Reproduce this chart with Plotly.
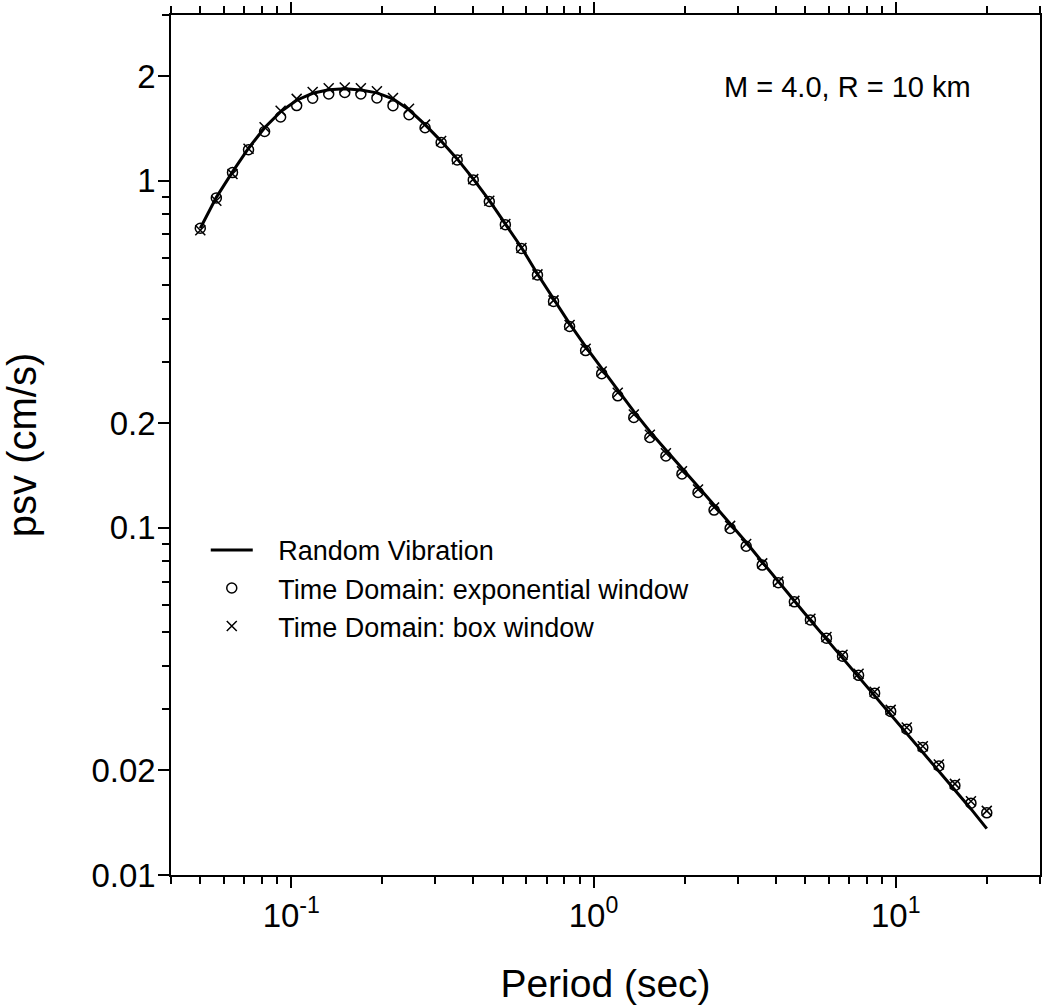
"""Random vibration vs time-domain psv, M = 4.0, R = 10 km."""

import math

import plotly.graph_objects as go

# periods (sec), shared by all three series
period = [
    0.0500, 0.0565, 0.0639, 0.0722, 0.0816, 0.0922, 0.1042, 0.1177, 0.1330, 0.1503,
    0.1699, 0.1920, 0.2170, 0.2452, 0.2771, 0.3132, 0.3539, 0.4000, 0.4520, 0.5108,
    0.5773, 0.6524, 0.7373, 0.8332, 0.9416, 1.0641, 1.2026, 1.3590, 1.5358, 1.7356,
    1.9614, 2.2166, 2.5050, 2.8309, 3.1992, 3.6154, 4.0858, 4.6173, 5.2181, 5.8969,
    6.6641, 7.5311, 8.5109, 9.6182, 10.869, 12.284, 13.882, 15.688, 17.729, 20.000,
]

# psv (cm/s) - random vibration
psv_rv = [
    0.729, 0.895, 1.060, 1.240, 1.420, 1.580, 1.705, 1.785, 1.827, 1.838,
    1.825, 1.790, 1.720, 1.600, 1.450, 1.300, 1.155, 1.012, 0.877, 0.752,
    0.642, 0.5385, 0.455, 0.3876, 0.3327, 0.2874, 0.2497, 0.2164, 0.1894, 0.1675,
    0.1488, 0.1316, 0.1163, 0.1030, 0.0909, 0.0797, 0.0700, 0.0615, 0.0542, 0.0478,
    0.0422, 0.0372, 0.0328, 0.0290, 0.0255, 0.0225, 0.0199, 0.0175, 0.0155, 0.0136,
]

# psv (cm/s) - time domain, exponential window
psv_exp = [
    0.729, 0.892, 1.055, 1.227, 1.385, 1.525, 1.645, 1.727, 1.778, 1.795,
    1.776, 1.730, 1.644, 1.548, 1.420, 1.288, 1.147, 1.005, 0.871, 0.747,
    0.638, 0.535, 0.449, 0.380, 0.324, 0.278, 0.240, 0.208, 0.182, 0.161,
    0.143, 0.1265, 0.1125, 0.0996, 0.0885, 0.0781, 0.0695, 0.0612, 0.0543, 0.0481,
    0.0427, 0.0376, 0.0334, 0.0296, 0.0263, 0.0233, 0.0206, 0.0181, 0.0161, 0.0151,
]

# psv (cm/s) - time domain, box window
psv_box = [
    0.720, 0.875, 1.045, 1.235, 1.425, 1.590, 1.720, 1.800, 1.845, 1.855,
    1.845, 1.810, 1.730, 1.610, 1.450, 1.300, 1.152, 1.010, 0.875, 0.750,
    0.640, 0.537, 0.452, 0.384, 0.328, 0.282, 0.245, 0.212, 0.1855, 0.164,
    0.1455, 0.129, 0.1145, 0.1013, 0.0898, 0.0790, 0.0700, 0.0616, 0.0547, 0.0485,
    0.0431, 0.0380, 0.0337, 0.0299, 0.0266, 0.0235, 0.0208, 0.0183, 0.0163, 0.0153,
]

x_major = [0.1, 1, 10]
x_major_text = ["10<sup>-1</sup>", "10<sup>0</sup>", "10<sup>1</sup>"]
x_minor = [0.04, 0.05, 0.06, 0.07, 0.08, 0.09,
           0.2, 0.3, 0.4, 0.5, 0.6, 0.7, 0.8, 0.9,
           2, 3, 4, 5, 6, 7, 8, 9, 20, 30]
y_major = [0.01, 0.02, 0.1, 0.2, 1, 2]
y_major_text = ["0.01", "0.02", "0.1", "0.2", "1", "2"]
y_minor = [0.03, 0.04, 0.05, 0.06, 0.07, 0.08, 0.09,
           0.3, 0.4, 0.5, 0.6, 0.7, 0.8, 0.9, 3]

FONT = "Liberation Sans, Arial, sans-serif"
GAP = "  \u2009"  # space between legend sample and its label

fig = go.Figure()
fig.add_trace(go.Scatter(
    x=period, y=psv_exp, mode="markers", name=GAP + "Time Domain: exponential window",
    marker=dict(symbol="circle-open", size=10, color="black", line=dict(width=1.5)),
    legendrank=2,
))
fig.add_trace(go.Scatter(
    x=period, y=psv_box, mode="markers", name=GAP + "Time Domain: box window",
    marker=dict(symbol="x-thin-open", size=10, color="black", line=dict(width=1.5)),
    legendrank=3,
))
fig.add_trace(go.Scatter(
    x=period, y=psv_rv, mode="lines", name=GAP + "Random Vibration",
    line=dict(color="black", width=3), legendrank=1,
))

axis_common = dict(
    showgrid=False, zeroline=False, showline=True, linecolor="black", linewidth=1.5,
    mirror="ticks", ticks="outside", ticklen=11, tickwidth=1.5, tickcolor="black",
    tickfont=dict(family=FONT, size=33, color="black"), automargin=False,
)

fig.update_xaxes(
    type="log", range=[math.log10(0.04), math.log10(30)],
    tickmode="array", tickvals=x_major, ticktext=x_major_text,
    minor=dict(tickmode="array", tickvals=x_minor, ticks="outside", ticklen=7,
               tickwidth=1.5, tickcolor="black", showgrid=False),
    title=dict(text="Period (sec)", font=dict(family=FONT, size=39, color="black"), standoff=36),
    **axis_common,
)
fig.update_yaxes(
    type="log", range=[math.log10(0.01), math.log10(3)],
    tickmode="array", tickvals=y_major, ticktext=y_major_text,
    minor=dict(tickmode="array", tickvals=y_minor, ticks="outside", ticklen=7,
               tickwidth=1.5, tickcolor="black", showgrid=False),
    ticklabelstandoff=-4,
    title=dict(text="psv (cm/s)", font=dict(family=FONT, size=40, color="black"), standoff=48),
    **axis_common,
)

fig.add_annotation(
    text="M = 4.0, R = 10 km", xref="paper", yref="paper", x=0.779, y=0.916,
    xanchor="center", yanchor="middle", showarrow=False,
    font=dict(family=FONT, size=29, color="black"),
)

fig.update_layout(
    width=1042, height=1007,
    margin=dict(l=171, r=2, t=15, b=132),
    paper_bgcolor="white", plot_bgcolor="white",
    font=dict(family=FONT, color="black"),
    legend=dict(x=0.040, y=0.406, xanchor="left", yanchor="top",
                bgcolor="rgba(0,0,0,0)", font=dict(family=FONT, size=27, color="black"),
                itemwidth=42),
)

# the page body has an 8px default margin; drop it so the figure fills the window
fig.write_html(
    "out.html",
    config={"displayModeBar": False},
    post_script="document.body.style.margin='0';document.body.style.overflow='hidden';",
)
